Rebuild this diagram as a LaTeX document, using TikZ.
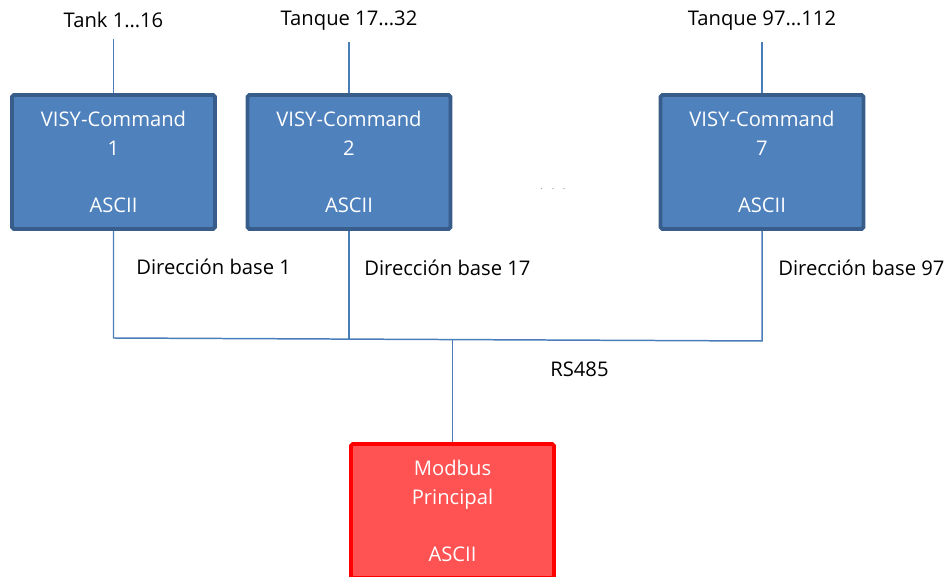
\documentclass[tikz,border=0pt]{standalone}
\usepackage{fontspec}
\setmainfont{Open Sans}
\usetikzlibrary{positioning}
\definecolor{unitfill}{HTML}{4F81BD}
\definecolor{unitedge}{HTML}{385D8A}
\definecolor{mainfill}{HTML}{FF5252}
\definecolor{wireblue}{HTML}{4A7EBB}
\tikzset{
	unit/.style={draw=unitedge, fill=unitfill, line width=2.2pt, rounded corners=1pt,
		minimum width=4.06cm, minimum height=2.68cm, text=white, align=center,
		font=\fontsize{11.5}{16.4}\selectfont},
	master/.style={unit, draw=red, fill=mainfill},
	tag/.style={font=\fontsize{11.5}{14}\selectfont, inner sep=0pt},
	tanktag/.style={tag, inner ysep=6pt},
	wire/.style={draw=wireblue, line width=0.85pt},
}
\begin{document}
\begin{tikzpicture}[x=0.02cm, y=-0.02cm]
	\useasboundingbox (0,0) rectangle (948,577);
	
	% VISY-Command units
	\node[unit] (cmd1) at (113.5,162) {VISY-Command\\1\\[16.4pt]ASCII};
	\node[unit] (cmd2) at (349,162) {VISY-Command\\2\\[16.4pt]ASCII};
	\node[unit] (cmd7) at (762,162) {VISY-Command\\7\\[16.4pt]ASCII};
	\node[text=gray, font=\tiny] (gap) at (553,189) {.\hspace{5pt}.\hspace{5pt}.};
	
	% tanks
	\node[tanktag] (tank1) at (113.5,20) {Tank 1…16};
	\node[tanktag] (tank2) at (349,21) {Tanque 17…32};
	\node[tanktag] (tank7) at (762,21) {Tanque 97…112};
	\draw[wire] (tank1) -- (cmd1);
	\draw[wire] (tank2) -- (cmd2);
	\draw[wire] (tank7) -- (cmd7);
	
	% addresses
	\node[tag, anchor=west] (addr1) at (136,267) {Dirección base 1};
	\node[tag, anchor=west] (addr2) at (364,268) {Dirección base 17};
	\node[tag, anchor=west] (addr7) at (778,268) {Dirección base 97};
	
	% RS485 bus
	\coordinate (bus1) at (113.5,338);
	\coordinate (bus2) at (349,339);
	\coordinate (bus7) at (762,341);
	\coordinate (busm) at (452.5,339.6);
	\draw[wire] (cmd1) -- (bus1) -- (bus7) -- (cmd7);
	\draw[wire] (cmd2) -- (bus2);
	\node[tag, anchor=west] (rs) at (550,369) {RS485};
	
	% master
	\node[master] (main) at (452.5,511) {Modbus\\Principal\\[16.4pt]ASCII};
	\draw[wire] (busm) -- (main);
	
\end{tikzpicture}
\end{document}
